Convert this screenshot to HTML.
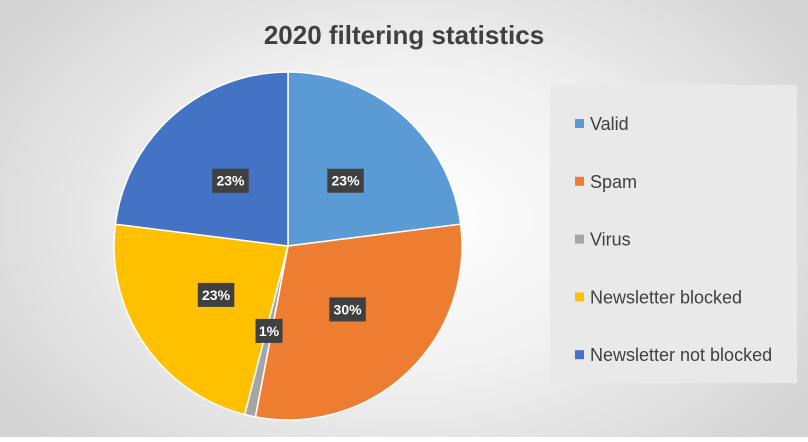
<!DOCTYPE html>
<html><head><meta charset="utf-8"><style>
html,body{margin:0;padding:0;}
body{width:808px;height:437px;overflow:hidden;font-family:"Liberation Sans",sans-serif;}
#wrap{position:relative;width:808px;height:437px;background:radial-gradient(ellipse 60% 75% at 50% 50%,#ffffff 0%,#f2f2f2 45%,#d4d4d4 100%);}
</style></head><body>
<div id="wrap">
<svg id="chart" width="808" height="437">
<text x="404" y="44" text-anchor="middle" font-size="26" font-weight="bold" fill="#404040" font-family="Liberation Sans, sans-serif">2020 filtering statistics</text>
<rect x="550" y="85" width="247" height="298" fill="#e9e9e9"/>
<g id="slices"></g><g id="labels"></g><g id="legend"></g>
</svg>
</div>
<script>
const categories=["Valid","Spam","Virus","Newsletter blocked","Newsletter not blocked"];
const values=[23,30,1,23,23];
const colors=["#5b9bd5","#ed7d31","#a5a5a5","#ffc000","#4472c4"];
const NS="http://www.w3.org/2000/svg";
const cx=288,cy=246,r=174;
const total=values.reduce((a,b)=>a+b,0);
function pt(frac,rad){const a=frac*2*Math.PI;return [cx+rad*Math.sin(a),cy-rad*Math.cos(a)];}
const sg=document.getElementById('slices'),lg=document.getElementById('labels'),leg=document.getElementById('legend');
let acc=0;
values.forEach((v,i)=>{
  const f0=acc/total,f1=(acc+v)/total;acc+=v;
  const [x0,y0]=pt(f0,r),[x1,y1]=pt(f1,r);
  const large=(f1-f0)>0.5?1:0;
  const p=document.createElementNS(NS,'path');
  p.setAttribute('d',`M${cx},${cy}L${x0},${y0}A${r},${r} 0 ${large} 1 ${x1},${y1}Z`);
  p.setAttribute('fill',colors[i]);p.setAttribute('stroke','#fff');p.setAttribute('stroke-width','1.5');
  
  
  sg.appendChild(p);
  const [lx,ly]=pt((f0+f1)/2,r*0.5);
  const txt=Math.round(v/total*100)+'%';
  const w=txt.length*9.5+8;
  const g=document.createElementNS(NS,'g');
  
  
  const b=document.createElementNS(NS,'rect');
  b.setAttribute('x',lx-w/2);b.setAttribute('y',ly-12);b.setAttribute('width',w);b.setAttribute('height',24);b.setAttribute('fill','#404040');
  g.appendChild(b);
  const t=document.createElementNS(NS,'text');
  t.setAttribute('x',lx);t.setAttribute('y',ly+5);t.setAttribute('text-anchor','middle');t.setAttribute('fill','#fff');
  t.setAttribute('font-size','14');t.setAttribute('font-weight','bold');t.setAttribute('font-family','Liberation Sans, sans-serif');
  t.textContent=txt;g.appendChild(t);lg.appendChild(g);
  const ey=124+i*57.8;
  const e=document.createElementNS(NS,'g');
  
  
  const m=document.createElementNS(NS,'rect');
  m.setAttribute('x',575);m.setAttribute('y',ey-5);m.setAttribute('width',9);m.setAttribute('height',9);m.setAttribute('fill',colors[i]);
  e.appendChild(m);
  const et=document.createElementNS(NS,'text');
  et.setAttribute('x',590);et.setAttribute('y',ey+6);et.setAttribute('font-size','18');et.setAttribute('fill','#404040');
  et.setAttribute('font-family','Liberation Sans, sans-serif');
  et.textContent=categories[i];e.appendChild(et);leg.appendChild(e);
});
</script>
</body></html>
